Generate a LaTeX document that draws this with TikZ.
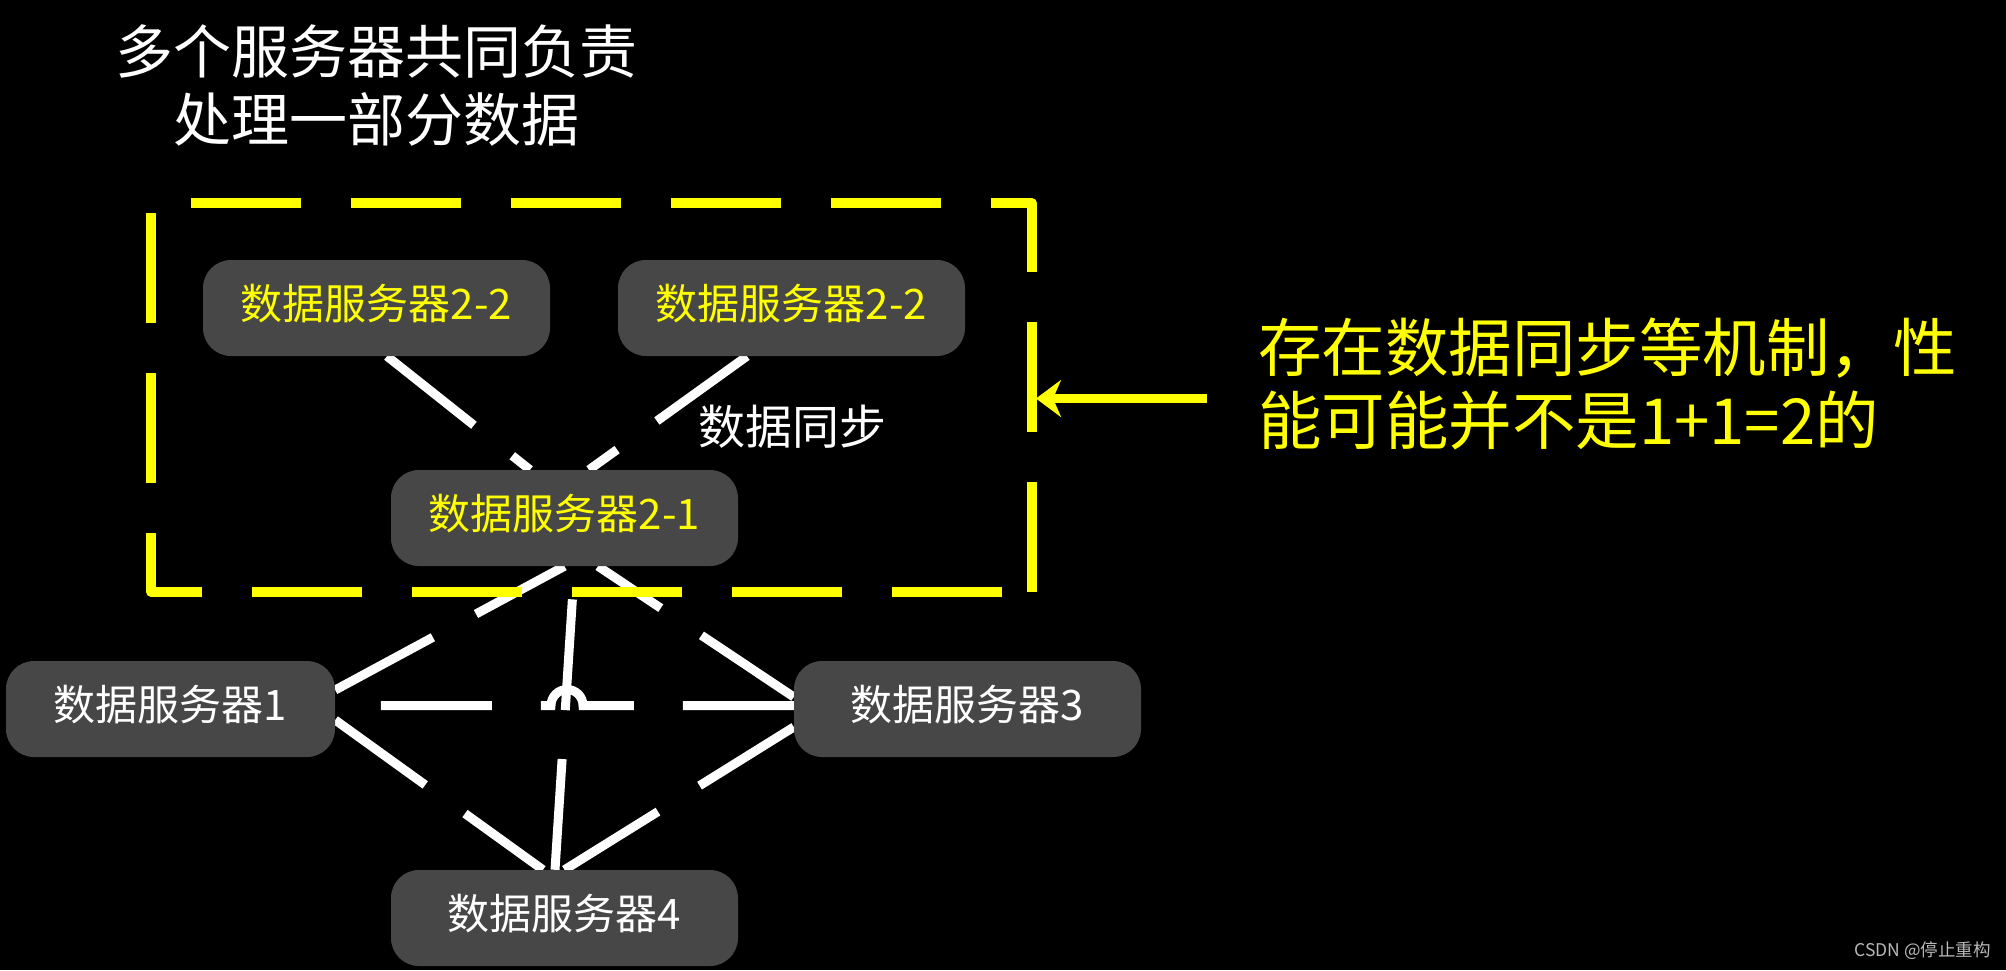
\documentclass[tikz,border=0pt]{standalone}
\usepackage{fontspec}
\newfontfamily\cjk{Noto Sans CJK SC}
\usetikzlibrary{arrows.meta}
\definecolor{nodegray}{RGB}{71,71,71}
\definecolor{ylw}{RGB}{255,255,0}
\definecolor{wmgray}{RGB}{185,185,185}
\pgfdeclarelayer{bg}
\pgfsetlayers{bg,main}
\begin{document}
\begin{tikzpicture}[x=1pt,y=-1pt,
  srv/.style={fill=nodegray, rounded corners=28pt, minimum width=347pt,
    minimum height=96pt, inner sep=0pt, text height=32pt, text depth=10pt,
    font=\cjk\fontsize{42}{50}\selectfont},
  link/.style={draw=white, line width=9pt, dash pattern=on 111pt off 49pt},
  groupbox/.style={draw=ylw, line width=9.5pt, dash pattern=on 110pt off 50pt,
    dash phase=130pt, line join=round},
  ]
\begin{pgfonlayer}{bg}
\fill[black] (0,0) rectangle (2006,970);
\end{pgfonlayer}
\useasboundingbox (0,0) rectangle (2006,970);

% title
\node[align=center, text=white, font=\cjk\fontsize{58}{68}\selectfont, inner sep=0pt]
  (title) at (376.5,85) {多个服务器共同负责\\处理一部分数据};

% servers
\node[srv, text=ylw] (s22a) at (376.5,308) {数据服务器2-2};
\node[srv, text=ylw] (s22b) at (791.5,308) {数据服务器2-2};
\node[srv, text=ylw] (s21) at (564.5,518) {数据服务器2-1};
\node[srv, text=white, minimum width=329pt] (s1) at (170.5,709) {数据服务器1};
\node[srv, text=white] (s3) at (967.5,709) {数据服务器3};
\node[srv, text=white] (s4) at (564.5,918) {数据服务器4};

% label
\node[text=white, font=\cjk\fontsize{47}{55}\selectfont, inner sep=0pt]
  (sync) at (792,427) {数据同步};

% connectors (under the nodes)
\coordinate (hopR) at (583,705.5);
\begin{pgfonlayer}{bg}
\draw[link] ([xshift=10.5pt]s22a.south) -- ([xshift=-34.5pt]s21.north);
\draw[link] ([xshift=-44.5pt]s22b.south) -- ([xshift=24.5pt]s21.north);
\draw[link] ([yshift=19pt]s1.east) -- (s21.south);
\draw[link] ([yshift=12pt]s3.west) -- ([xshift=33.5pt]s21.south);
\draw[link] ([xshift=-9.5pt]s4.north) -- ([xshift=10pt]s21.south);
\draw[link] ([yshift=3.5pt]s3.west) -- (hopR)
  arc[start angle=0, end angle=180, radius=16pt] -- ([yshift=3.5pt]s1.east);
\draw[link] ([yshift=-11pt]s1.east) -- ([xshift=-21.5pt]s4.north);
\draw[link] ([yshift=-18pt]s3.west) -- (s4.north);
\end{pgfonlayer}

% group box
\coordinate (bTL) at (151,203);
\coordinate (bBR) at (1032,592);
\draw[groupbox] (bBR) -- (bTL |- bBR) -- (bTL) -- (bTL -| bBR) -- cycle;

% note and arrow
\node[align=left, anchor=west, text=ylw, font=\cjk\fontsize{63.5}{73}\selectfont,
  inner sep=0pt] (note) at (1258,384) {存在数据同步等机制，性\\能可能并不是1+1=2的};
\coordinate (arrS) at (1207,398.5);
\coordinate (arrE) at (1036,398.5);
\draw[draw=ylw, line width=9pt, -{Stealth[length=25pt, width=37pt, inset=8pt, fill=ylw]}]
  (arrS) -- (arrE);

% watermark
\node[font=\cjk\fontsize{17.5}{20}\selectfont, text=wmgray, anchor=east, inner sep=0pt]
  (wmk) at (1991,951) {CSDN @停止重构};
\end{tikzpicture}
\end{document}
